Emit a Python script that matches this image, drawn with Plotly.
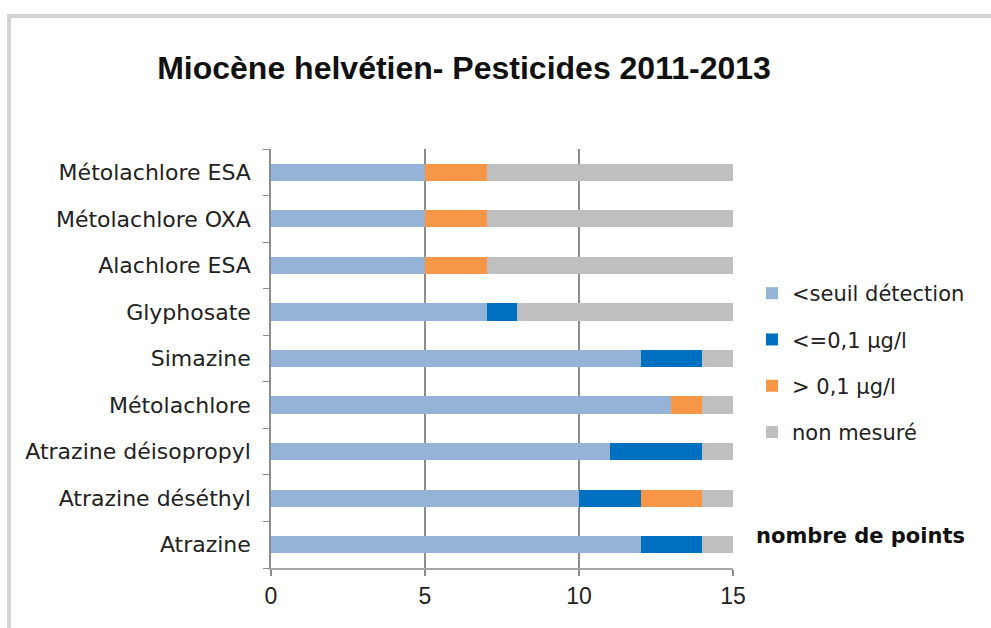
import plotly.graph_objects as go

categories = ["Atrazine", "Atrazine déséthyl", "Atrazine déisopropyl", "Métolachlore",
              "Simazine", "Glyphosate", "Alachlore ESA", "Métolachlore OXA", "Métolachlore ESA"]
seuil = [12, 10, 11, 13, 12, 7, 5, 5, 5]
inf01 = [2, 2, 3, 0, 2, 1, 0, 0, 0]
sup01 = [0, 2, 0, 1, 0, 0, 2, 2, 2]
non_mesure = [1, 1, 1, 1, 1, 7, 8, 8, 8]
series_names = ["<seuil détection", "<=0,1 µg/l", "> 0,1 µg/l", "non mesuré"]
colors = ["#95B3D7", "#0070C0", "#F79646", "#BFBFBF"]
x_ticks = [0, 5, 10, 15]

W, H = 991, 628
L, R, T, B = 271, 733, 149, 568

fig = go.Figure()
for i, (name, vals, col) in enumerate(zip(series_names, [seuil, inf01, sup01, non_mesure], colors)):
    fig.add_trace(go.Bar(y=categories, x=vals, name=name, orientation="h", legendgroup=f"g{i}",
                         marker=dict(color=col, line=dict(width=0))))

def px(x):
    return (x - L) / (R - L)

def py(y):
    return (B - y) / (B - T)

fig.update_layout(
    width=W, height=H,
    barmode="stack", bargap=0.63,
    paper_bgcolor="white", plot_bgcolor="white",
    margin=dict(l=L, r=W - R, t=T, b=H - B, pad=0, autoexpand=False),
    font=dict(family="DejaVu Sans, sans-serif", color="#222222"),
    title=dict(text="<b>Miocène helvétien- Pesticides 2011-2013</b>",
               x=px(464), xref="paper", xanchor="center",
               y=1 - 68 / H, yanchor="middle",
               font=dict(size=32, family="Liberation Sans Narrow, Liberation Sans, Arial, sans-serif", color="#111111")),
    legend=dict(x=px(752), y=py(273), xanchor="left", yanchor="top",
                font=dict(size=21, color="#222222", family="DejaVu Sans, sans-serif"),
                traceorder="grouped", tracegroupgap=16, itemwidth=30,
                bgcolor="rgba(0,0,0,0)"),
    showlegend=True,
    xaxis=dict(range=[0, 15], tickvals=x_ticks, showgrid=True, gridcolor="#8C8C8C",
               gridwidth=1.5, showline=True, linecolor="#A6A6A6", linewidth=2,
               ticks="outside", ticklen=6, tickcolor="#8C8C8C", tickwidth=1.5,
               tickfont=dict(size=23, color="#222222", family="Liberation Sans, Arial, sans-serif"),
               zeroline=False, fixedrange=True),
    yaxis=dict(showline=True, linecolor="#8C8C8C", linewidth=1.5, ticks="outside",
               tickson="boundaries", ticklen=6, tickcolor="#8C8C8C",
               tickfont=dict(size=22, color="#222222"), showgrid=False,
               categoryorder="array", categoryarray=categories, ticklabelstandoff=14),
    shapes=[
        dict(type="line", xref="paper", yref="paper", x0=px(9), x1=px(W + 5), y0=py(16), y1=py(16),
             line=dict(color="#D3D3D3", width=4)),
        dict(type="line", xref="paper", yref="paper", x0=px(9), x1=px(9), y0=py(14), y1=py(H + 5),
             line=dict(color="#D3D3D3", width=4)),
    ],
    annotations=[
        dict(text="<b>nombre de points</b>", xref="paper", yref="paper", x=px(754), y=py(536),
             xanchor="left", yanchor="middle", showarrow=False,
             font=dict(size=21, color="#111111")),
    ],
)

fig.write_html("out.html", config={"displayModeBar": False},
               post_script="document.body.style.margin='0';document.body.style.overflow='hidden';")
